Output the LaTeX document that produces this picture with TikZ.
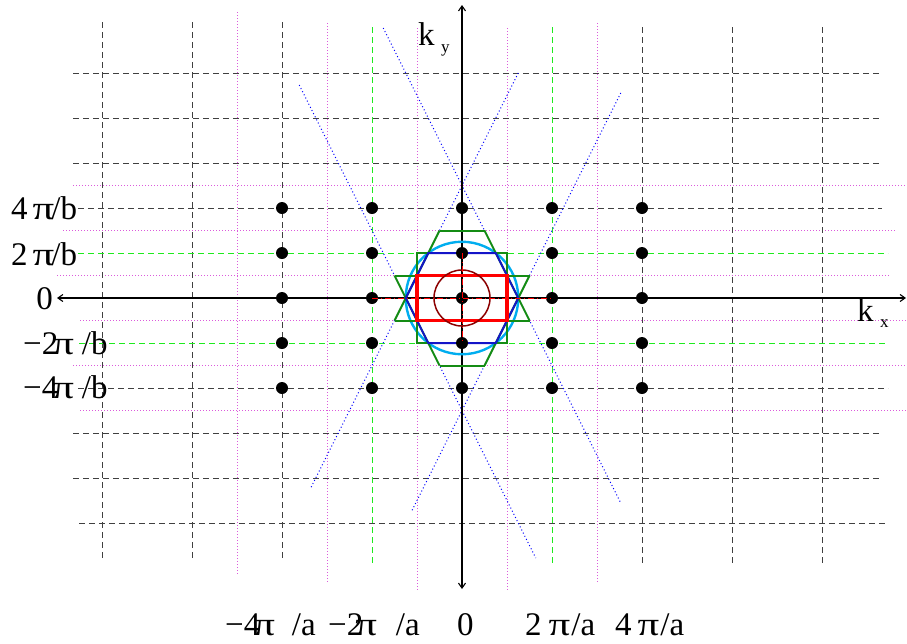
\documentclass[tikz,border=0pt]{standalone}
\usepackage{fontspec}
\usepackage{graphicx}
\setmainfont{Liberation Serif}
\usetikzlibrary{arrows.meta}
\definecolor{gridmag}{RGB}{220,90,220}
\definecolor{gridgreen}{RGB}{30,235,30}
\definecolor{zonegreen}{RGB}{20,140,20}
\definecolor{hexblue}{RGB}{20,20,200}
\definecolor{darkcirc}{RGB}{140,0,0}
\newcommand{\wpi}{\scalebox{1.3}[1]{π}}
\begin{document}
\begin{tikzpicture}[x=1pt,y=-1pt,
  blackgrid/.style={draw=black!75, line width=0.9pt, dash pattern=on 6pt off 4pt},
  greengrid/.style={draw=gridgreen, line width=0.9pt, dash pattern=on 6pt off 4pt},
  maggrid/.style={draw=gridmag, line width=1pt, dash pattern=on 1pt off 2pt},
  bragg/.style={draw=blue, line width=1pt, dash pattern=on 1pt off 2.5pt},
  axisline/.style={draw=black, line width=1.1pt, {Straight Barb[length=5pt,width=7pt]}-{Straight Barb[length=5pt,width=7pt]}},
  lab/.style={font=\fontsize{33}{36}\selectfont, inner sep=0pt},
  subl/.style={font=\fontsize{17}{18}\selectfont, inner sep=0pt},
  latdot/.style={fill=black},
  zone/.style={draw=zonegreen, line width=2pt},
]
\useasboundingbox (0,0) rectangle (907,643);
% magenta dotted grid
\foreach \x/\a/\b in {237/12/575, 327/23/583, 417/28/590, 507/28/590, 597/23/583}
  \draw[maggrid] (\x,\a) -- (\x,\b);
\foreach \y/\a/\b in {185.5/73/907, 230.5/63/895, 275.5/57/890, 320.5/80/907, 365.5/73/907, 410.5/80/907}
  \draw[maggrid] (\a,\y) -- (\b,\y);
% black dashed grid
\foreach \x/\a/\b in {102/22/559, 192/22/559, 282/22/559, 642/27/564, 732/27/564, 822/27/564}
  \draw[blackgrid] (\x,\a) -- (\x,\b);
\foreach \y/\a/\b in {73/73/882, 118/73/882, 163/73/882, 208/78/882, 388/78/888, 433/73/882, 478/73/882, 523/79/887}
  \draw[blackgrid] (\a,\y) -- (\b,\y);
% green dashed grid
\foreach \x in {372, 552}
  \draw[greengrid] (\x,27) -- (\x,565);
\foreach \y/\a in {253/78, 343/79}
  \draw[greengrid] (\a,\y) -- (888,\y);
% blue dotted lines (extended hexagon edges)
\coordinate (l1a) at (383.25,28);  \coordinate (l1b) at (620.25,502);
\coordinate (l2a) at (518.25,73);  \coordinate (l2b) at (310.25,489);
\coordinate (l3a) at (299.25,85);  \coordinate (l3b) at (535.75,558);
\coordinate (l4a) at (620.75,93);  \coordinate (l4b) at (411.25,512);
\draw[bragg] (l1a) -- (l1b);
\draw[bragg] (l2a) -- (l2b);
\draw[bragg] (l3a) -- (l3b);
\draw[bragg] (l4a) -- (l4b);
% axes
\coordinate (xl) at (57,298);  \coordinate (xr) at (906,298);
\coordinate (yt) at (462,5);   \coordinate (yb) at (462,589);
\draw[axisline] (xl) -- (xr);
\draw[axisline] (yb) -- (yt);
% cyan circle
\coordinate (o) at (462,298);
\draw[cyan, line width=2.4pt] (o) circle[radius=56.25];
% green zone outline
\draw[zone] (439.5,230.5) -- (484.5,230.5);
\draw[zone] (439.5,365.5) -- (484.5,365.5);
\draw[zone] (439.5,230.5) -- (394.5,320.5);
\draw[zone] (394.5,275.5) -- (439.5,365.5);
\draw[zone] (484.5,230.5) -- (529.5,320.5);
\draw[zone] (529.5,275.5) -- (484.5,365.5);
\draw[zone] (394.5,275.5) -- (529.5,275.5);
\draw[zone] (394.5,320.5) -- (529.5,320.5);
\draw[zone] (417,253) rectangle (507,343);
% blue hexagon
\draw[hexblue, line width=2pt] (405.75,298) -- (428.25,253) -- (495.75,253) -- (518.25,298) -- (495.75,343) -- (428.25,343) -- cycle;
% red rectangle
\draw[red, line width=3.2pt] (417,275.5) rectangle (507,320.5);
% dark red circle
\draw[darkcirc, line width=1.5pt] (o) circle[radius=28];
% lattice points
\foreach \x in {282,372,462,552,642}
  \foreach \y in {208,253,298,343,388}
    \fill[latdot] (\x,\y) circle[radius=6];
% red dash-dot on axes
\draw[red, line width=1pt, dash pattern=on 6pt off 3pt on 1pt off 3pt] (372,298) -- (552,298);
\draw[red, line width=1pt, dash pattern=on 6pt off 3pt on 1pt off 3pt] (462,253) -- (462,343);
% axis labels
\node[lab, anchor=base west] (ky) at (418,45) {k};
\node[subl, anchor=base west] (kys) at (441,52) {y};
\node[lab, anchor=base west] (kx) at (857,321) {k};
\node[subl, anchor=base west] (kxs) at (880,327) {x};
% left labels
\node[lab, anchor=base west] (b4) at (11,219) {4\kern5pt\wpi\kern-3pt/b};
\node[lab, anchor=base west] (b2) at (11,265) {2\kern5pt\wpi\kern-3pt/b};
\node[lab, anchor=base east] (b0) at (53,309) {0};
\node[lab, anchor=base west] (bm2) at (23,354) {−2\kern-6pt\wpi\kern8pt/b};
\node[lab, anchor=base west] (bm4) at (23,398) {−4\kern-6pt\wpi\kern8pt/b};
% bottom labels
\node[lab, anchor=base west] (am4) at (225,635) {−4\kern-7pt\wpi\kern17pt/a};
\node[lab, anchor=base west] (am2) at (328,635) {−2\kern-8pt\wpi\kern19pt/a};
\node[lab, anchor=base west] (a0) at (457,635) {0};
\node[lab, anchor=base west] (a2) at (525,635) {2\kern7pt\wpi\kern1pt/a};
\node[lab, anchor=base west] (a4) at (615,635) {4\kern6pt\wpi\kern1pt/a};
\end{tikzpicture}
\end{document}
